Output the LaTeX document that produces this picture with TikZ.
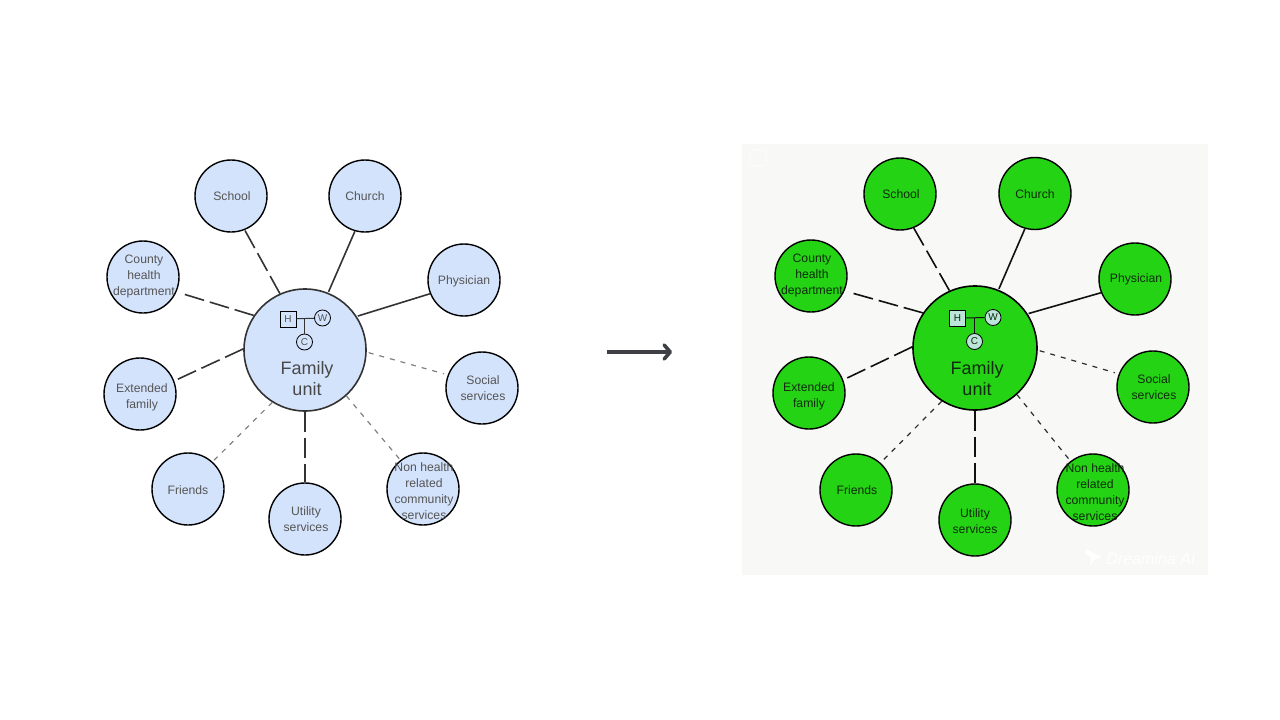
\documentclass[tikz,border=0pt]{standalone}
\usepackage{fontspec}
\setmainfont{Liberation Sans}
\usetikzlibrary{arrows.meta}
\definecolor{lfill}{HTML}{D4E3FC}
\definecolor{rfill}{HTML}{24D414}
\definecolor{ltext}{HTML}{555555}
\definecolor{rtext}{HTML}{0F2A0C}
\definecolor{lline}{HTML}{333333}
\definecolor{rline}{HTML}{111111}
\definecolor{ldots}{HTML}{808080}
\definecolor{rdots}{HTML}{2E2E2E}
\definecolor{rsmall}{HTML}{BCE5DA}
\definecolor{rpaper}{HTML}{F8F8F6}
\definecolor{bigarrow}{HTML}{3F3F46}
\tikzset{
  leaf/.style={draw=black,circle,line width=1.4pt,minimum size=72pt,inner sep=0pt},
  lleaf/.style={leaf,fill=lfill},
  rleaf/.style={leaf,fill=rfill},
  ltxt/.style={align=center,inner sep=0pt,text=ltext,font=\fontsize{12.2}{16}\selectfont},
  rtxt/.style={align=center,inner sep=0pt,text=rtext,font=\fontsize{12.2}{16}\selectfont},
  hub/.style={draw,circle,line width=1.6pt,inner sep=0pt},
  hublabel/.style={align=center,inner sep=0pt,font=\fontsize{18}{21}\selectfont},
  smallbox/.style={draw,rectangle,minimum size=16pt,inner sep=0pt,line width=0.8pt,font=\fontsize{10}{10}\selectfont},
  smallcirc/.style={draw,circle,minimum size=16pt,inner sep=0pt,line width=0.8pt,font=\fontsize{10}{10}\selectfont},
  solidlink/.style={line width=1.6pt},
  dashlink/.style={line width=1.6pt,dash pattern=on 20pt off 6pt},
  dotlink/.style={line width=1.2pt,dash pattern=on 5pt off 6pt},
}
\begin{document}
\begin{tikzpicture}[x=1pt,y=-1pt]
\useasboundingbox (0,0) rectangle (1280,720);
\node[fill=rpaper,minimum width=466pt,minimum height=431pt,inner sep=0pt] (rpaper) at (975,359.5) {};
\node[draw=white,rounded corners=3pt,line width=0.6pt,minimum width=16pt,minimum height=16pt,inner sep=0pt] (rbadge) at (758,158) {};
\node[text=white,font=\itshape\fontsize{16}{16}\selectfont,inner sep=0pt] (rmark) at (1151,559) {Dreamina AI};
\fill[white] (1086,549) -- (1102,557) -- (1094,560) -- (1090,566) -- (1091,558) -- (1085,553) -- cycle;

% left panel
\node[hub,fill=lfill,draw=lline,minimum size=122pt] (l-hub) at (305,350) {};
\node[lleaf,label={[ltxt,xshift=1pt]center:School}] (l-school) at (231,196) {};
\node[lleaf,label={[ltxt]center:Church}] (l-church) at (365,196) {};
\node[lleaf,label={[ltxt,yshift=-1pt]center:Physician}] (l-physician) at (464,280) {};
\node[lleaf,label={[ltxt,xshift=1pt]center:County\\health\\department}] (l-county) at (143,277) {};
\node[lleaf,label={[ltxt,xshift=2pt,yshift=-3pt]center:Extended\\family}] (l-extended) at (140,394) {};
\node[lleaf,label={[ltxt,xshift=1pt]center:Social\\services}] (l-social) at (482,388) {};
\node[lleaf,label={[ltxt,yshift=-1pt]center:Friends}] (l-friends) at (188,489) {};
\node[lleaf,label={[ltxt,xshift=1pt]center:Utility\\services}] (l-utility) at (305,519) {};
\node[lleaf,label={[ltxt,xshift=1pt,yshift=-2pt]center:Non health\\related\\community\\services}] (l-nonhealth) at (423,489) {};
\node[hublabel,text=ltext!85!black] (l-family) at (307,379) {Family\\unit};
\node[smallbox,fill=lfill,text=ltext] (l-h) at (288,319) {H};
\node[smallcirc,fill=lfill,text=ltext] (l-w) at (322.5,318) {W};
\node[smallcirc,fill=lfill,text=ltext] (l-c) at (304.5,342) {C};
\coordinate (l-join) at (304.5,318);

% right panel
\node[hub,fill=rfill,draw=black,minimum size=124pt] (r-hub) at (975,348) {};
\node[rleaf,label={[rtxt,xshift=1pt]center:School}] (r-school) at (900,194) {};
\node[rleaf,label={[rtxt,yshift=-1pt]center:Church}] (r-church) at (1035,193.5) {};
\node[rleaf,label={[rtxt,xshift=1pt]center:Physician}] (r-physician) at (1135,279) {};
\node[rleaf,label={[rtxt,xshift=1pt]center:County\\health\\department}] (r-county) at (811,276) {};
\node[rleaf,label={[rtxt,yshift=-3pt]center:Extended\\family}] (r-extended) at (809,393) {};
\node[rleaf,label={[rtxt,xshift=1pt]center:Social\\services}] (r-social) at (1153,387) {};
\node[rleaf,label={[rtxt,xshift=1pt]center:Friends}] (r-friends) at (856,490) {};
\node[rleaf,label={[rtxt,yshift=-1pt]center:Utility\\services}] (r-utility) at (975,520) {};
\node[rleaf,label={[rtxt,xshift=2pt,yshift=-2pt]center:Non health\\related\\community\\services}] (r-nonhealth) at (1093,490) {};
\node[hublabel,text=rtext] (r-family) at (977,379) {Family\\unit};
\node[smallbox,fill=rsmall,text=rtext] (r-h) at (957.5,318) {H};
\node[smallcirc,fill=rsmall,text=rtext] (r-w) at (993,317.5) {W};
\node[smallcirc,fill=rsmall,text=rtext] (r-c) at (974.5,341.5) {C};
\coordinate (r-join) at (974.5,317.5);

% links, same on both sides
\foreach \p/\c/\d in {l/lline/ldots,r/rline/rdots} {
  \draw[solidlink,\c,shorten <=1pt] (\p-hub.68.5) -- (\p-church.-106.5);
  \draw[solidlink,\c,shorten <=1pt] (\p-hub.33) -- (\p-physician.202);
  \draw[dashlink,\c] (\p-hub.114) -- (\p-school.-68);
  \draw[dashlink,\c,shorten >=6pt] (\p-hub.146.5) -- (\p-county.-24);
  \draw[dashlink,\c] (\p-hub.179) -- (\p-extended.21);
  \draw[dashlink,\c] (\p-hub.-90) -- (\p-utility.90);
  \draw[dotlink,\d,shorten <=2pt,shorten >=4pt] (\p-hub.-2) -- (\p-social.159);
  \draw[dotlink,\d] (\p-hub.-122) -- (\p-friends.48);
  \draw[dotlink,\d] (\p-hub.-48) -- (\p-nonhealth.128);
  \draw[line width=1pt,\c] (\p-h) -- (\p-w);
  \draw[line width=1pt,\c] (\p-join) -- (\p-c);
}

% arrow between the panels
\coordinate (arrowfrom) at (607,352);
\coordinate (arrowto) at (672,352);
\draw[line width=3.4pt,bigarrow,-{Straight Barb[length=6pt,width=14pt,line width=3.6pt,round]}] (arrowfrom) -- (arrowto);
\end{tikzpicture}
\end{document}
